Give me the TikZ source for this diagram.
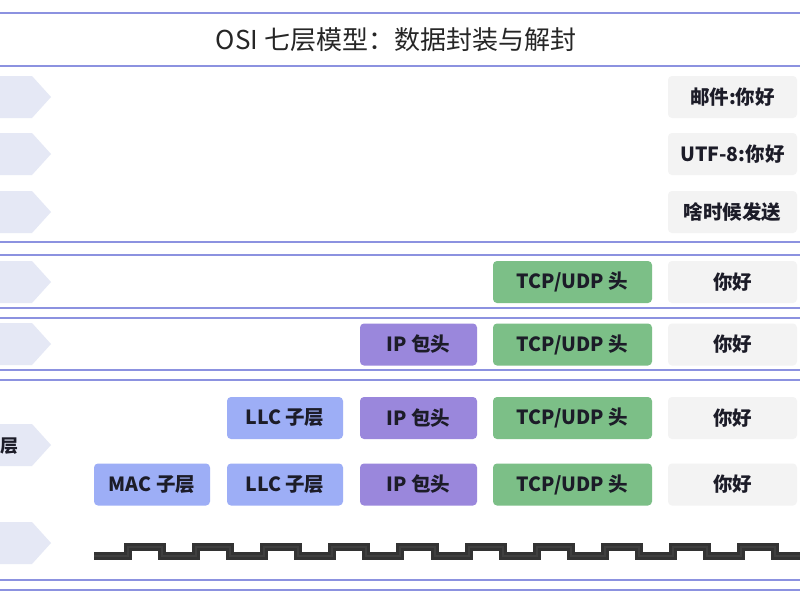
\documentclass[tikz,border=0pt]{standalone}
\usepackage{fontspec}
\setmainfont{Noto Sans CJK SC}
\begin{document}
\begin{tikzpicture}[x=1pt,y=-1pt,
  sepline/.style={draw=lineblue,line width=2pt},
  chev/.style={fill=chevfill,draw=none},
  cell/.style={rounded corners=4pt,inner sep=0pt,minimum height=42pt,
    font=\bfseries\fontsize{19.5}{22}\selectfont,text=boxtext},
  graycell/.style={cell,fill=grayfill,minimum width=129pt},
  greencell/.style={cell,fill=greenfill,minimum width=159pt},
  purplecell/.style={cell,fill=purplefill,minimum width=117pt},
  bluecell/.style={cell,fill=bluefill,minimum width=116pt},
  waveouter/.style={draw=wavedark,line width=8pt,line cap=butt,line join=miter},
  waveinner/.style={draw=wavemid,line width=2pt,line cap=butt,line join=miter}]
\definecolor{lineblue}{HTML}{8C92E0}
\definecolor{chevfill}{HTML}{E5E8F5}
\definecolor{grayfill}{HTML}{F3F3F3}
\definecolor{greenfill}{HTML}{7CBF87}
\definecolor{purplefill}{HTML}{9A87DC}
\definecolor{bluefill}{HTML}{9DAEF6}
\definecolor{boxtext}{HTML}{1C1C28}
\definecolor{wavedark}{HTML}{333333}
\definecolor{wavemid}{HTML}{3F3F3F}
\useasboundingbox (0,0) rectangle (800,600);
\clip (0,0) rectangle (800,600);
\fill[white] (0,0) rectangle (800,600);
% section lines
\foreach \yy in {13,66,242,255,308,318,370,380,580,590}
  \draw[sepline] (-5,\yy) -- (805,\yy);
% chevrons
\foreach \cy in {97,154,212,282,344,445,543}
  \fill[chev] (-10,\cy-21) -- (32,\cy-21) -- (51,\cy) -- (32,\cy+21) -- (-10,\cy+21) -- cycle;
% title
\node[font=\fontsize{26}{30}\selectfont,text=black!85] (title) at (396,40) {OSI 七层模型：数据封装与解封};
\node[anchor=west,font=\bfseries\fontsize{18}{20}\selectfont,text=boxtext,inner sep=0pt] (dll) at (0,446) {层};
% application rows
\node[graycell] (mail) at (732.5,97) {邮件:你好};
\node[graycell] (utf) at (732.5,154) {UTF-8:你好};
\node[graycell] (when) at (732.5,212) {啥时候发送};
% transport
\node[greencell] (tcp1) at (572.5,282) {TCP/UDP 头};
\node[graycell] (hi1) at (732.5,282) {你好};
% network
\node[purplecell] (ip2) at (418.5,344.5) {IP 包头};
\node[greencell] (tcp2) at (572.5,344.5) {TCP/UDP 头};
\node[graycell] (hi2) at (732.5,344.5) {你好};
% data link
\node[bluecell] (llc3) at (285,418) {LLC 子层};
\node[purplecell] (ip3) at (418.5,418) {IP 包头};
\node[greencell] (tcp3) at (572.5,418) {TCP/UDP 头};
\node[graycell] (hi3) at (732.5,418) {你好};
\node[bluecell] (mac4) at (152,484.5) {MAC 子层};
\node[bluecell] (llc4) at (285,484.5) {LLC 子层};
\node[purplecell] (ip4) at (418.5,484.5) {IP 包头};
\node[greencell] (tcp4) at (572.5,484.5) {TCP/UDP 头};
\node[graycell] (hi4) at (732.5,484.5) {你好};
% physical wave
\draw[waveouter] (94,556) foreach \i in {1,...,12} { -- ++(34.05,0) -- ++(0,-9) -- ++(34.05,0) -- ++(0,9) };
\draw[waveinner] (94,556) foreach \i in {1,...,12} { -- ++(34.05,0) -- ++(0,-9) -- ++(34.05,0) -- ++(0,9) };
\end{tikzpicture}
\end{document}
